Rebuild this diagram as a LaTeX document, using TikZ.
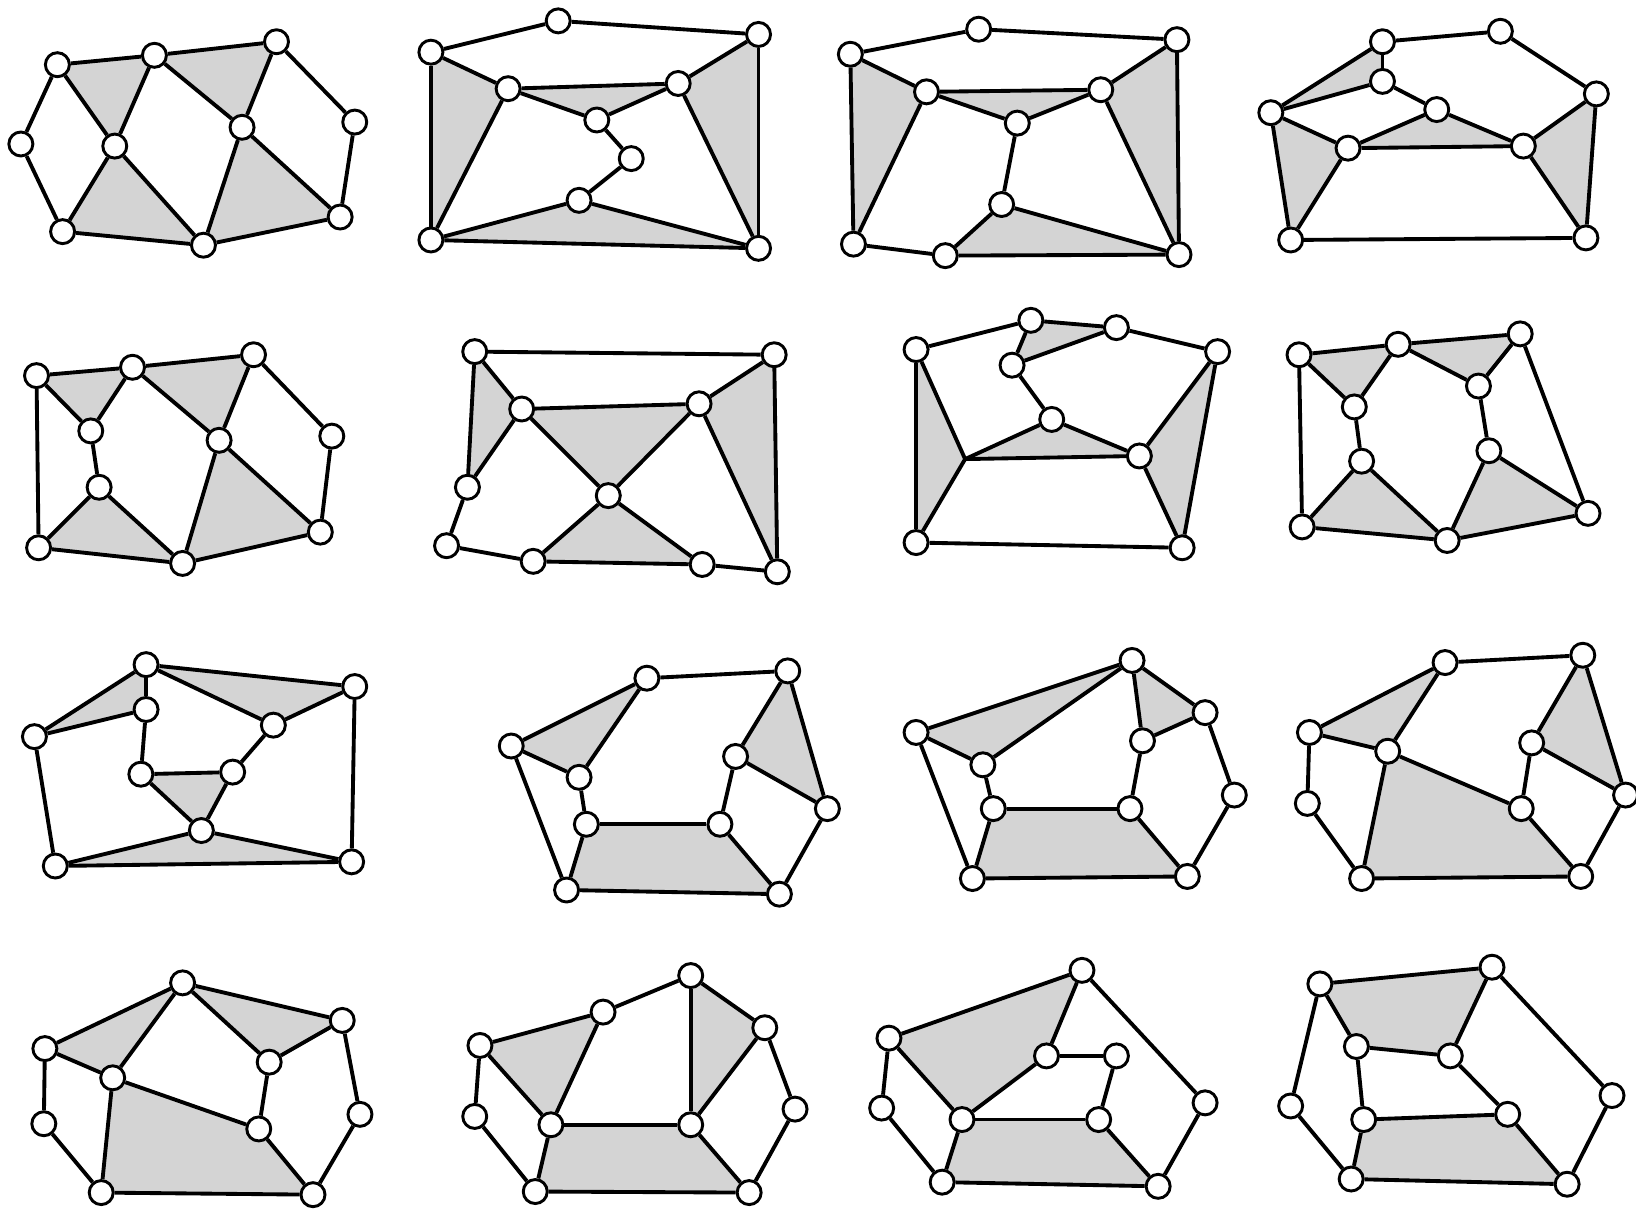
\documentclass[tikz,border=0pt]{standalone}
\pgfdeclarelayer{bg}
\pgfdeclarelayer{ed}
\pgfsetlayers{bg,ed,main}
\tikzset{
  v/.style={circle,draw=black,fill=white,line width=2.8pt,minimum size=23pt,inner sep=0pt},
  edge/.style={line width=3.7pt,black},
  shd/.style={fill=black!17}
}
\newcommand\gnodes[2]{\foreach \n/\x/\y in {#2} {\node[v] (#1\n) at (\x,\y) {};}}
\newcommand\gedges[2]{\begin{pgfonlayer}{ed}\foreach \s/\t in {#2} {\draw[edge] (#1\s) -- (#1\t);}\end{pgfonlayer}}
\newcommand\shtri[4]{\begin{pgfonlayer}{bg}\fill[shd] (#1#2.center) -- (#1#3.center) -- (#1#4.center) -- cycle;\end{pgfonlayer}}
\newcommand\shquad[5]{\begin{pgfonlayer}{bg}\fill[shd] (#1#2.center) -- (#1#3.center) -- (#1#4.center) -- (#1#5.center) -- cycle;\end{pgfonlayer}}
\begin{document}
\begin{tikzpicture}[x=1pt,y=-1pt]
\useasboundingbox (0,0) rectangle (1568,1160);
% G1
\gnodes{g1}{a/55/62, b/148/53, c/265/40, d/20/138, e/110/140, f/232/122, g/340/117, h/60/222, i/195/235, j/326/208}
\gedges{g1}{a/b,b/c,c/g,g/j,j/i,i/h,h/d,d/a,a/e,e/b,b/f,f/c,e/h,e/i,f/i,f/j}
\shtri{g1}{a}{b}{e}\shtri{g1}{b}{c}{f}\shtri{g1}{e}{h}{i}\shtri{g1}{f}{i}{j}
% G2
\gnodes{g2}{a/413/50, b/535/20, c/727/33, d/487/85, e/650/80, f/572/115, g/605/152, h/555/192, i/413/230, j/727/238}
\gedges{g2}{a/b,b/c,a/d,a/i,d/e,d/f,f/e,e/c,c/j,f/g,g/h,h/i,h/j,i/j,d/i,e/j}
\shtri{g2}{a}{d}{i}\shtri{g2}{d}{e}{f}\shtri{g2}{e}{c}{j}\shtri{g2}{i}{h}{j}
% G3
\gnodes{g3}{a/815/52, b/938/28, c/1128/38, d/888/88, e/1055/86, f/975/118, g/960/196, h/818/234, i/906/245, j/1130/244}
\gedges{g3}{a/b,b/c,a/d,a/h,d/e,d/f,f/e,e/c,c/j,f/g,g/i,g/j,i/j,h/i,d/h,e/j}
\shtri{g3}{a}{d}{h}\shtri{g3}{d}{e}{f}\shtri{g3}{e}{c}{j}\shtri{g3}{g}{i}{j}
% G4
\gnodes{g4}{a/1325/40, b/1438/30, c/1530/90, d/1325/78, e/1218/108, f/1377/105, g/1292/142, h/1460/140, i/1237/230, j/1520/228}
\gedges{g4}{a/b,b/c,a/d,a/e,d/e,d/f,f/g,f/h,g/h,e/g,e/i,g/i,h/c,h/j,c/j,i/j}
\shtri{g4}{a}{d}{e}\shtri{g4}{f}{g}{h}\shtri{g4}{e}{g}{i}\shtri{g4}{h}{c}{j}
% G5
\gnodes{g5}{a/35/360, b/127/352, c/243/340, d/87/413, e/210/422, f/318/418, g/95/467, h/37/525, i/175/540, j/307/510}
\gedges{g5}{a/b,b/c,c/f,f/j,j/i,i/h,h/a,a/d,d/b,b/e,e/c,d/g,g/h,g/i,e/i,e/j}
\shtri{g5}{a}{b}{d}\shtri{g5}{b}{c}{e}\shtri{g5}{g}{h}{i}\shtri{g5}{e}{i}{j}
% G6
\gnodes{g6}{a/455/337, b/742/340, c/500/392, d/670/387, e/583/475, f/448/467, g/428/523, h/511/538, i/673/541, j/745/548}
\gedges{g6}{a/b,a/c,a/f,c/d,c/e,d/e,d/b,b/j,d/j,f/c,f/g,g/h,h/e,e/i,h/i,i/j}
\shtri{g6}{a}{c}{f}\shtri{g6}{c}{d}{e}\shtri{g6}{d}{b}{j}\shtri{g6}{e}{h}{i}
% G7
\gnodes{g7}{a/878/335, b/988/307, c/1070/314, d/970/350, e/1008/402, f/1167/337, h/1092/437, i/878/520, j/1133/525}
\coordinate (g7g) at (925,440);
\gedges{g7}{a/b,b/c,c/f,a/i,a/g,g/i,g/h,g/e,e/h,d/e,b/d,d/c,f/h,f/j,h/j,i/j}
\shtri{g7}{a}{g}{i}\shtri{g7}{b}{c}{d}\shtri{g7}{g}{e}{h}\shtri{g7}{f}{h}{j}
% G8
\gnodes{g8}{a/1245/340, b/1340/330, c/1457/320, d/1298/390, e/1417/370, f/1305/442, g/1427/432, h/1248/505, i/1387/518, j/1522/492}
\gedges{g8}{a/b,b/c,a/h,a/d,d/b,b/e,e/c,c/j,d/f,e/g,f/h,f/i,h/i,g/i,g/j,i/j}
\shtri{g8}{a}{b}{d}\shtri{g8}{b}{c}{e}\shtri{g8}{f}{h}{i}\shtri{g8}{g}{i}{j}
% G9
\gnodes{g9}{a/140/637, b/340/658, c/140/680, d/33/706, e/262/695, f/223/740, g/135/742, h/193/796, i/53/830, j/337/826}
\gedges{g9}{a/b,a/d,a/c,a/e,c/d,c/g,e/b,e/f,f/g,g/h,f/h,d/i,b/j,h/i,h/j,i/j}
\shtri{g9}{a}{c}{d}\shtri{g9}{a}{b}{e}\shtri{g9}{f}{g}{h}\shtri{g9}{h}{i}{j}
% G10
\gnodes{g10}{a/620/650, b/755/643, c/490/715, d/555/745, e/705/725, f/793/775, g/562/790, h/690/790, i/543/853, j/747/857}
\gedges{g10}{a/b,a/c,a/d,c/d,c/i,d/g,g/h,g/i,h/e,e/b,b/f,e/f,h/j,f/j,i/j}
\shtri{g10}{a}{c}{d}\shtri{g10}{b}{e}{f}\shquad{g10}{g}{h}{j}{i}
% G11
\gnodes{g11}{a/1085/633, b/878/702, c/1155/683, d/1095/710, e/942/733, f/1183/762, g/952/775, h/1083/775, i/932/842, j/1138/840}
\gedges{g11}{a/b,a/e,b/e,a/d,a/c,d/c,b/i,e/g,g/h,d/h,c/f,g/i,i/j,h/j,f/j}
\shtri{g11}{a}{b}{e}\shtri{g11}{a}{c}{d}\shquad{g11}{g}{h}{j}{i}
% G12
\gnodes{g12}{a/1385/635, b/1517/628, c/1255/702, d/1330/720, e/1468/712, f/1558/762, g/1253/770, h/1458/775, i/1305/842, j/1515/840}
\gedges{g12}{a/b,a/c,a/d,c/d,c/g,g/i,d/i,d/h,e/h,b/e,b/f,e/f,h/j,f/j,i/j}
\shtri{g12}{a}{c}{d}\shtri{g12}{b}{e}{f}\shquad{g12}{d}{h}{j}{i}
% G13
\gnodes{g13}{a/175/942, b/328/978, c/43/1005, d/258/1018, e/108/1033, f/345/1068, g/42/1077, h/248/1082, i/97/1143, j/300/1145}
\gedges{g13}{a/c,a/b,a/e,a/d,d/b,c/e,c/g,g/i,e/i,e/h,h/d,h/j,b/f,f/j,i/j}
\shtri{g13}{a}{c}{e}\shtri{g13}{a}{b}{d}\shquad{g13}{e}{h}{j}{i}
% G14
\gnodes{g14}{a/662/935, b/578/970, c/733/985, d/460/1002, e/455/1070, f/528/1078, g/662/1078, h/762/1063, i/513/1142, j/718/1143}
\gedges{g14}{a/b,a/g,a/c,c/g,b/d,d/f,b/f,d/e,e/i,f/i,f/g,g/j,c/h,h/j,i/j}
\shtri{g14}{b}{d}{f}\shtri{g14}{a}{c}{g}\shquad{g14}{f}{g}{j}{i}
% G15
\gnodes{g15}{a/1037/930, b/852/995, c/1003/1012, d/1070/1012, e/845/1062, f/922/1073, g/1053/1073, h/1155/1057, i/903/1133, j/1110/1137}
\gedges{g15}{a/b,a/c,b/f,c/f,c/d,d/g,b/e,e/i,f/i,f/g,g/j,a/h,h/j,i/j}
\shquad{g15}{a}{b}{f}{c}\shquad{g15}{f}{g}{j}{i}
% G16
\gnodes{g16}{a/1265/943, b/1430/927, c/1300/1003, d/1390/1012, e/1237/1060, f/1307/1073, g/1445/1068, h/1545/1050, i/1295/1130, j/1502/1135}
\gedges{g16}{a/b,a/c,c/d,d/b,b/h,a/e,c/f,d/g,f/g,e/i,f/i,g/j,h/j,i/j}
\shquad{g16}{a}{b}{d}{c}\shquad{g16}{f}{g}{j}{i}
\end{tikzpicture}
\end{document}
